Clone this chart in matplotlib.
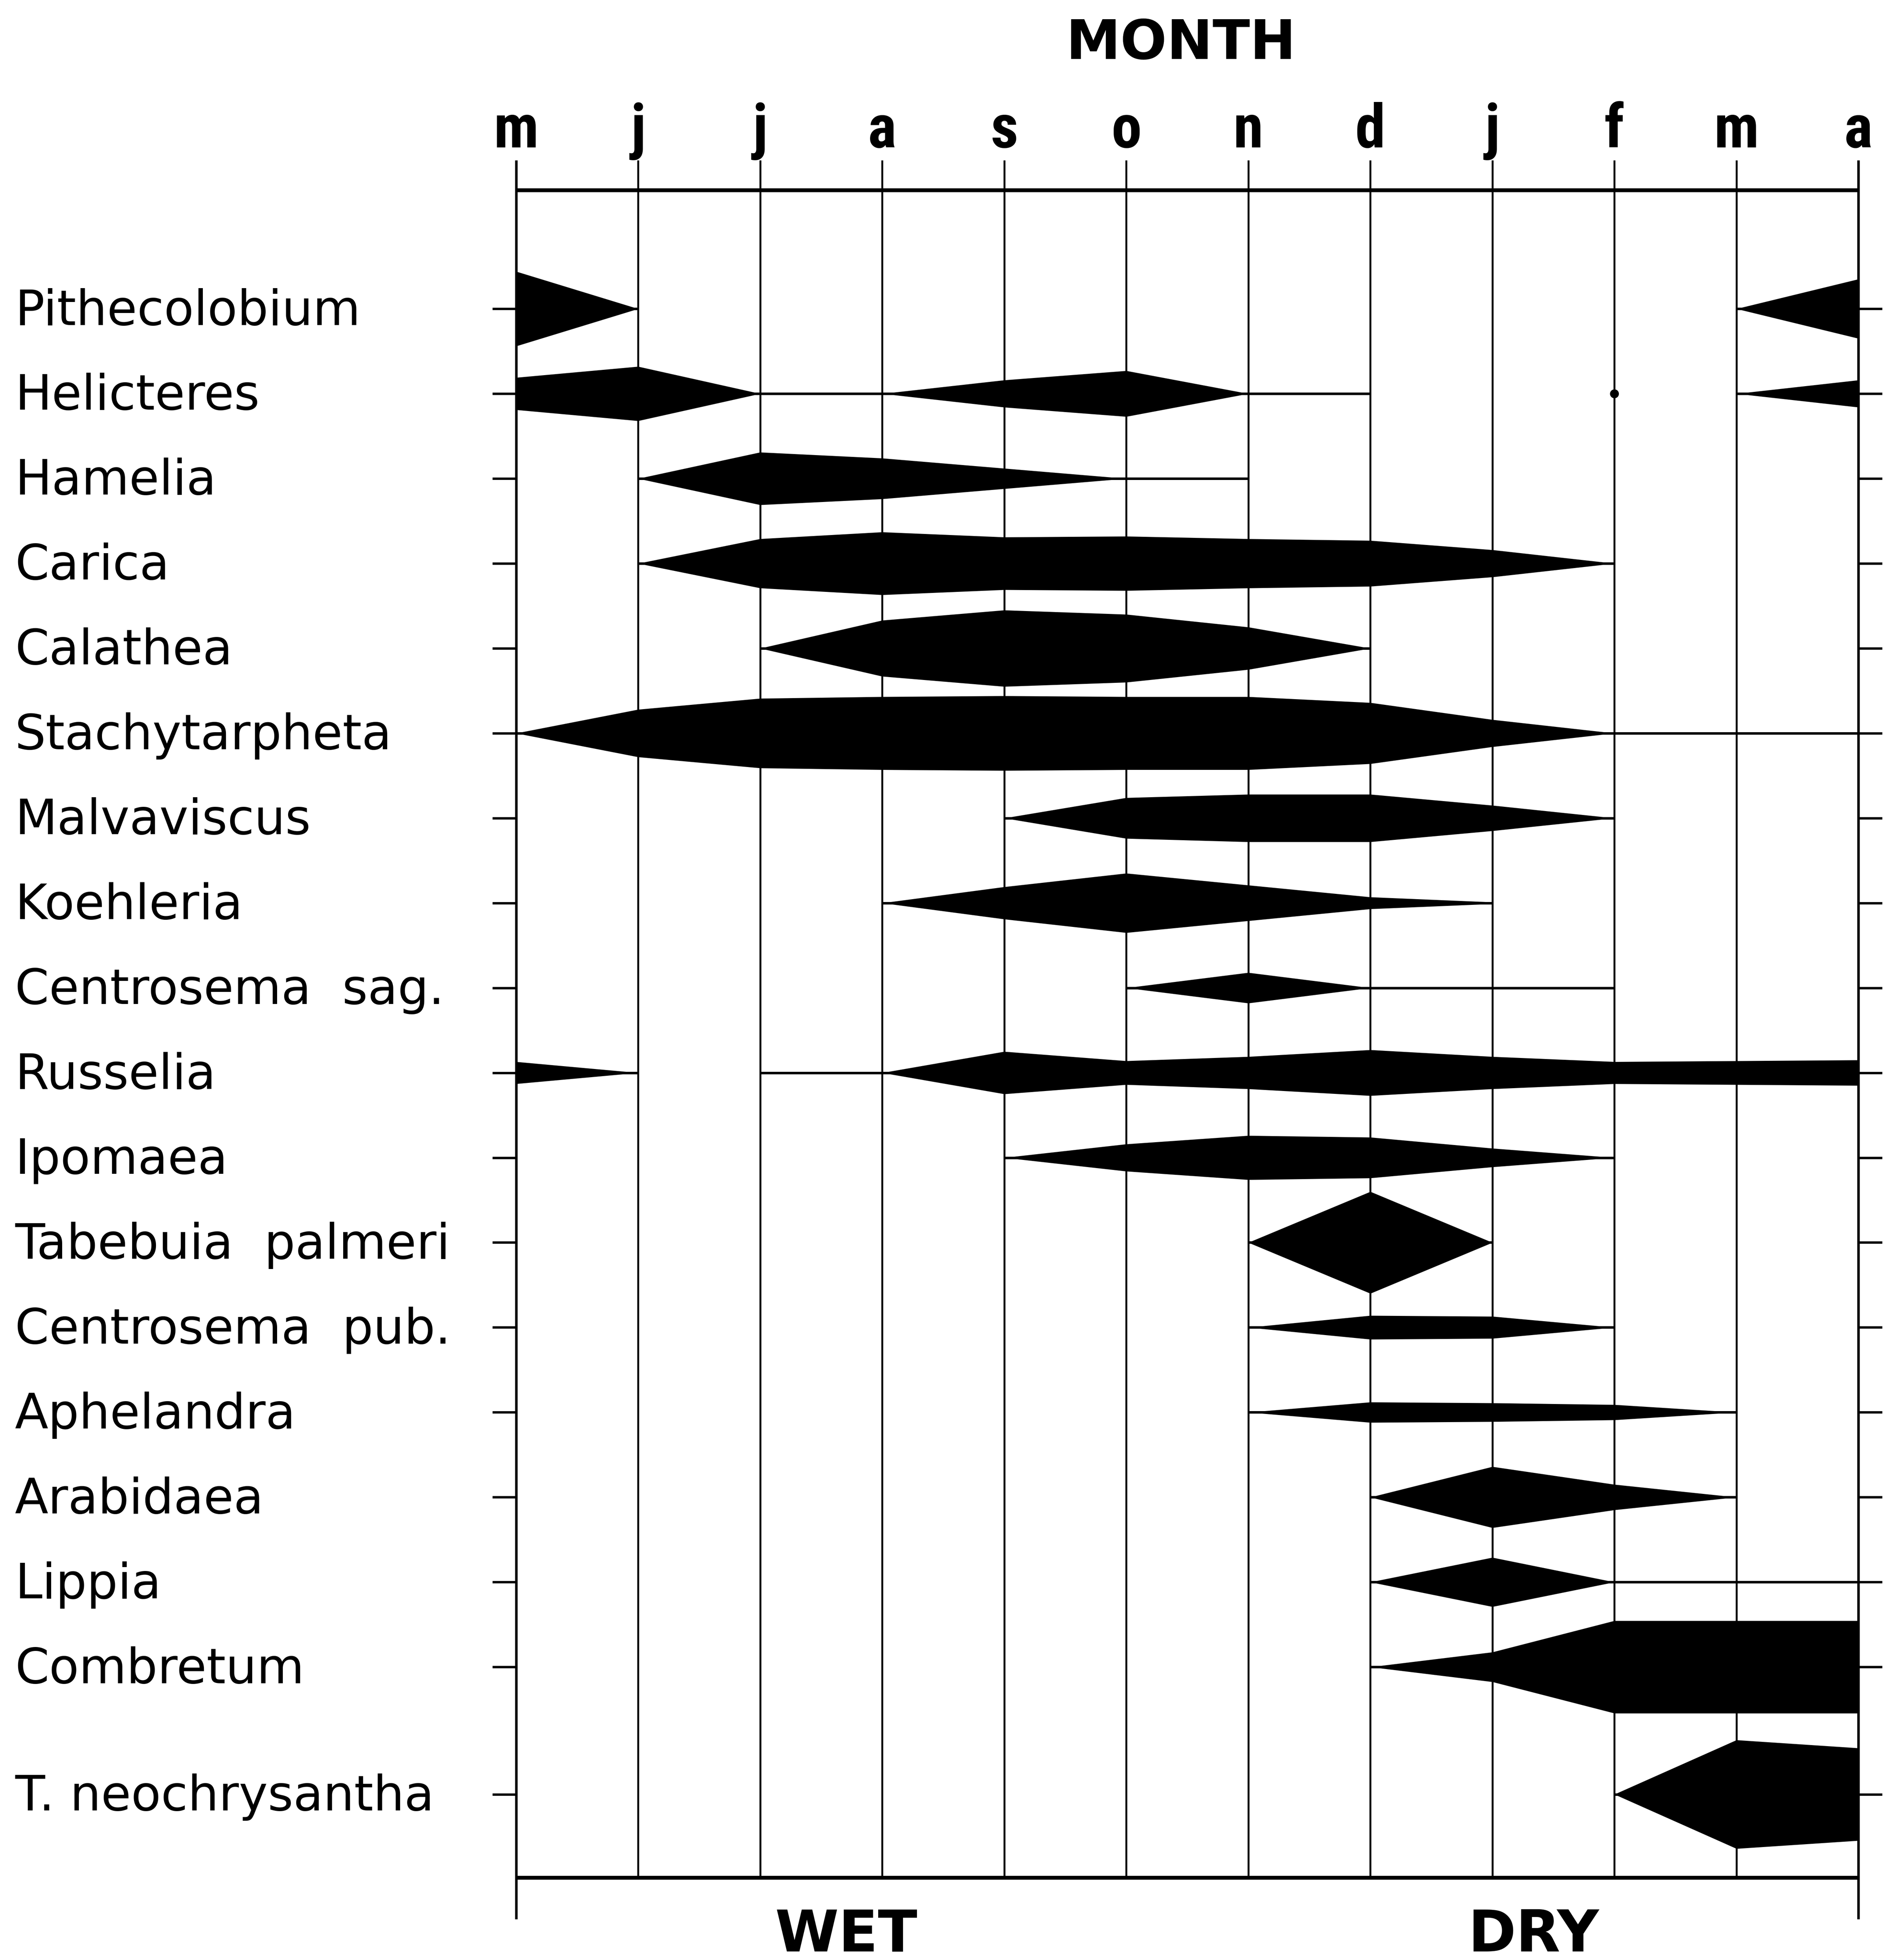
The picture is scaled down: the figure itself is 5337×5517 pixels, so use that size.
import matplotlib
matplotlib.use("Agg")
import matplotlib.pyplot as plt
import numpy as np
from matplotlib.transforms import blended_transform_factory

# ---------------- data ----------------
months = ["m", "j", "j", "a", "s", "o", "n", "d", "j", "f", "m", "a"]
species = ["Pithecolobium", "Helicteres", "Hamelia", "Carica", "Calathea",
           "Stachytarpheta", "Malvaviscus", "Koehleria", "Centrosema  sag.",
           "Russelia", "Ipomaea", "Tabebuia  palmeri", "Centrosema  pub.",
           "Aphelandra", "Arabidaea", "Lippia", "Combretum", "T. neochrysantha"]

# flowering intensity (half thickness, in row units) at successive month lines;
# each entry: (index of first month, values at that and following months)
pithecolobium = [(0, [0.44, 0.0]), (10, [0.0, 0.35])]
helicteres = [(0, [0.19, 0.32, 0.0, 0.0, 0.16, 0.27, 0.0, 0.0]), (9, [0.03]), (10, [0.0, 0.16])]
hamelia = [(1, [0.0, 0.31, 0.24, 0.12, 0.0, 0.0])]
carica = [(1, [0.0, 0.29, 0.37, 0.31, 0.32, 0.29, 0.27, 0.16, 0.0])]
calathea = [(2, [0.0, 0.33, 0.45, 0.40, 0.25, 0.0])]
stachytarpheta = [(0, [0.0, 0.28, 0.41, 0.43, 0.44, 0.43, 0.43, 0.36, 0.16, 0.0, 0.0, 0.0])]
malvaviscus = [(4, [0.0, 0.24, 0.28, 0.28, 0.15, 0.0])]
koehleria = [(3, [0.0, 0.19, 0.35, 0.21, 0.07, 0.01])]
centrosema_sag = [(5, [0.0, 0.18, 0.0, 0.0, 0.0])]
russelia = [(0, [0.13, 0.0]), (2, [0.0, 0.0, 0.25, 0.14, 0.19, 0.27, 0.19, 0.13, 0.14, 0.15])]
ipomaea = [(4, [0.0, 0.16, 0.26, 0.24, 0.11, 0.0])]
tabebuia_palmeri = [(6, [0.0, 0.60, 0.0])]
centrosema_pub = [(6, [0.0, 0.14, 0.13, 0.0])]
aphelandra = [(6, [0.0, 0.12, 0.11, 0.09, 0.0])]
arabidaea = [(7, [0.0, 0.36, 0.15, 0.0])]
lippia = [(7, [0.0, 0.29, 0.0, 0.0, 0.0])]
combretum = [(7, [0.0, 0.175, 0.545, 0.545, 0.545])]
t_neochrysantha = [(9, [0.0, 0.64, 0.545])]

profiles = [pithecolobium, helicteres, hamelia, carica, calathea, stachytarpheta,
            malvaviscus, koehleria, centrosema_sag, russelia, ipomaea,
            tabebuia_palmeri, centrosema_pub, aphelandra, arabidaea, lippia,
            combretum, t_neochrysantha]

# ---------------- layout ----------------
row_pos = list(range(17)) + [17.5]
TOP, BOTTOM = -1.40, 18.48

fig = plt.figure(figsize=(5337 / 300, 5517 / 300), dpi=300)
ax = fig.add_axes([0.2722, 0.0421, 0.708, 0.861])
ax.set_xlim(0, len(months) - 1)
ax.set_ylim(BOTTOM, TOP)
for sp in ax.spines.values():
    sp.set_visible(False)
ax.set_xticks([])
ax.set_yticks(row_pos)
ax.tick_params(axis="y", left=True, right=True, direction="out", length=16,
               width=1.6, labelleft=False, color="black")

xm = np.arange(len(months))
# month grid
ax.vlines(xm[1:-1], -1.75, BOTTOM, color="black", lw=1.3, clip_on=False, zorder=1)
ax.vlines([xm[0], xm[-1]], -1.75, 18.97, color="black", lw=1.7, clip_on=False, zorder=1)
ax.hlines([TOP, BOTTOM], xm[0], xm[-1], color="black", lw=2.6, clip_on=False, zorder=1)

# flowering shapes
for r, prof in zip(row_pos, profiles):
    for start, vals in prof:
        v = np.array(vals, dtype=float)
        x = start + np.arange(len(v))
        if len(v) == 1:
            ax.plot(x, [r], marker="o", ms=5, color="black", zorder=3)
            continue
        ax.fill_between(x, r - v, r + v, color="black", lw=0, zorder=3)
        ax.plot(x, [r] * len(x), color="black", lw=1.7, zorder=3,
                solid_capstyle="butt")

# species labels
tr = blended_transform_factory(fig.transFigure, ax.transData)
for r, name in zip(row_pos, species):
    ax.text(0.0079, r + 0.19, name, transform=tr, ha="left", va="baseline",
            fontsize=33, family=["DejaVu Sans"], color="black")

# month labels
for i, m in enumerate(months):
    ax.text(i, -1.90, m, ha="center", va="baseline", fontsize=41,
            fontweight="bold", family=["Roboto Condensed", "Roboto", "DejaVu Sans"],
            clip_on=False)

fig.text(0.623, 0.9777, "MONTH", ha="center", va="center", fontsize=37,
         fontweight="bold", family=["DejaVu Sans"])
fig.text(0.4463, 0.0125, "WET", ha="center", va="center", fontsize=39,
         fontweight="bold", family=["DejaVu Sans"])
fig.text(0.8088, 0.0125, "DRY", ha="center", va="center", fontsize=39,
         fontweight="bold", family=["DejaVu Sans"])

fig.savefig("out.png", dpi=300, facecolor="white")
